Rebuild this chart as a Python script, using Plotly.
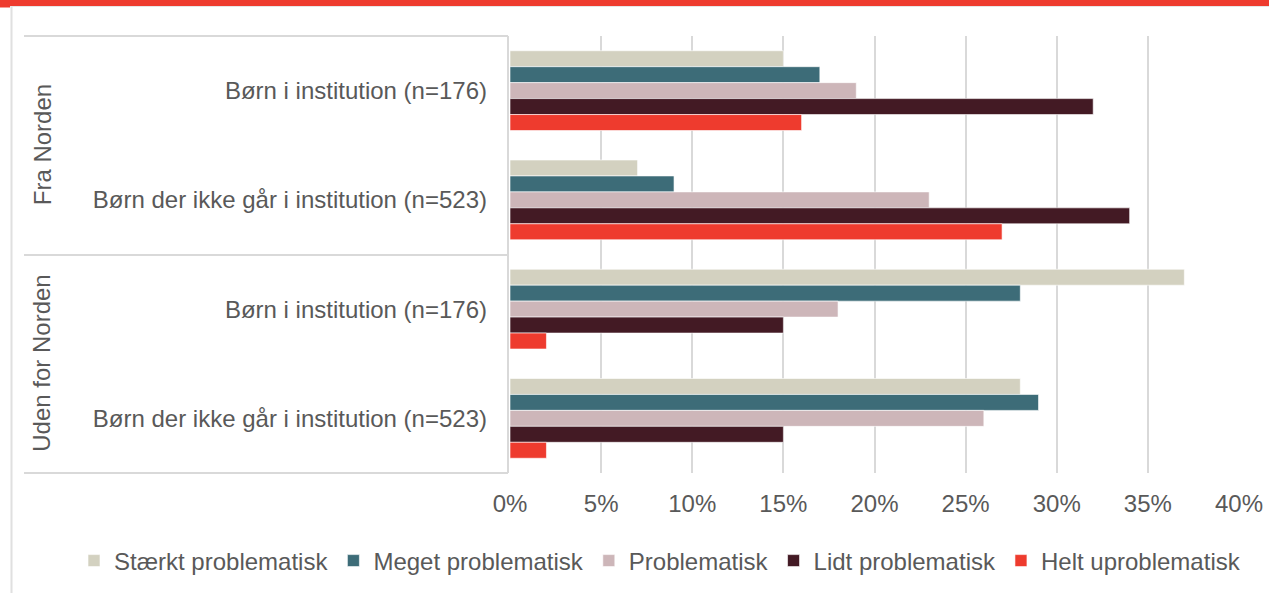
import plotly.graph_objects as go

# ---- data ----
groups = ["Fra Norden", "Fra Norden", "Uden for Norden", "Uden for Norden"]
labels = [
    "Børn i institution (n=176)",
    "Børn der ikke går i institution (n=523)",
    "Børn i institution (n=176)",
    "Børn der ikke går i institution (n=523)",
]
series_names = [
    "Stærkt problematisk",
    "Meget problematisk",
    "Problematisk",
    "Lidt problematisk",
    "Helt uproblematisk",
]
staerkt = [15, 7, 37, 28]
meget = [17, 9, 28, 29]
problematisk = [19, 23, 18, 26]
lidt = [32, 34, 15, 15]
helt = [16, 27, 2, 2]
series_values = [staerkt, meget, problematisk, lidt, helt]
colors = ["#D3D1C0", "#3D6C78", "#CDB6B9", "#431A24", "#EE3B2E"]
x_ticks = [0, 5, 10, 15, 20, 25, 30, 35, 40]

# ---- layout constants ----
W, H = 1269, 593
L, R, T, B = 510, W - 1239, 36, H - 473
PW, PH = W - L - R, H - T - B
FONT = "Liberation Sans, Arial, sans-serif"
TXT = "#595959"
LINE = "#d9d9d9"


def px_x(p):
    return (p - L) / PW


def px_y(p):
    return (H - B - p) / PH


keys = [f"{g}|{l}" for g, l in zip(groups, labels)]

fig = go.Figure()
for name, vals, col in zip(series_names, series_values, colors):
    fig.add_trace(go.Bar(
        y=keys, x=vals, name=name, orientation="h",
        marker=dict(color=col, line=dict(color="rgba(255,255,255,0.6)", width=1)),
    ))

shapes = []
# top red band + thin gray line
shapes.append(dict(type="rect", xref="paper", yref="paper", x0=px_x(0), x1=px_x(W),
                   y0=px_y(7), y1=px_y(6), fillcolor="#e6e6e6", line_width=0, layer="above"))
shapes.append(dict(type="rect", xref="paper", yref="paper", x0=px_x(0), x1=px_x(W),
                   y0=px_y(6), y1=px_y(-2), fillcolor="#EE3B2E", line_width=0, layer="above"))
shapes.append(dict(type="rect", xref="paper", yref="paper", x0=px_x(0), x1=px_x(10),
                   y0=px_y(7.5), y1=px_y(5), fillcolor="#EE3B2E", line_width=0, layer="above"))
# outer frame left line
shapes.append(dict(type="line", xref="paper", yref="paper", x0=px_x(11.5), x1=px_x(11.5),
                   y0=px_y(7), y1=px_y(H + 2), line=dict(color="#e0e0e0", width=2)))
# category label box
for yp in [36, 255, 473]:
    shapes.append(dict(type="line", xref="paper", yref="paper", x0=px_x(24), x1=px_x(508),
                       y0=px_y(yp), y1=px_y(yp), line=dict(color=LINE, width=2)))
shapes.append(dict(type="line", xref="paper", yref="paper", x0=px_x(508), x1=px_x(508),
                   y0=px_y(36), y1=px_y(473), line=dict(color=LINE, width=2)))

annotations = []
group_names = ["Fra Norden", "Uden for Norden"]
for gname, yc in zip(group_names, [0.75, 0.25]):
    annotations.append(dict(text=gname, xref="paper", yref="paper", x=px_x(42), y=yc,
                            showarrow=False, textangle=-90, xanchor="center", yanchor="middle",
                            font=dict(family=FONT, size=24, color=TXT)))

fig.update_layout(
    width=W, height=H,
    margin=dict(l=L, r=R, t=T, b=B, pad=0, autoexpand=False),
    paper_bgcolor="white", plot_bgcolor="white",
    barmode="group", bargap=0.27, bargroupgap=0,
    font=dict(family=FONT, size=24, color=TXT),
    showlegend=True,
    legend=dict(
        orientation="h", xref="paper", yref="paper",
        x=px_x(74), y=px_y(561), xanchor="left", yanchor="middle",
        font=dict(family=FONT, size=24, color=TXT),
        itemwidth=30, traceorder="normal",
        bgcolor="rgba(0,0,0,0)",
    ),
    shapes=shapes,
    annotations=annotations,
    xaxis=dict(
        range=[0, 40], tickvals=x_ticks, ticktext=[f"{v}%" for v in x_ticks],
        showgrid=True, gridcolor=LINE, gridwidth=2, zeroline=False,
        showline=False, ticks="", ticklabelstandoff=14,
        tickfont=dict(family=FONT, size=24, color=TXT), fixedrange=True,
    ),
    yaxis=dict(
        type="category", categoryorder="array", categoryarray=keys,
        tickvals=keys, ticktext=labels, autorange="reversed",
        showgrid=False, zeroline=False, showline=False, ticks="",
        ticklabelstandoff=22,
        tickfont=dict(family=FONT, size=24, color=TXT), fixedrange=True,
    ),
)

fig.write_html(
    "out.html",
    config={"displayModeBar": False},
    post_script="document.body.style.margin='0';",
)
